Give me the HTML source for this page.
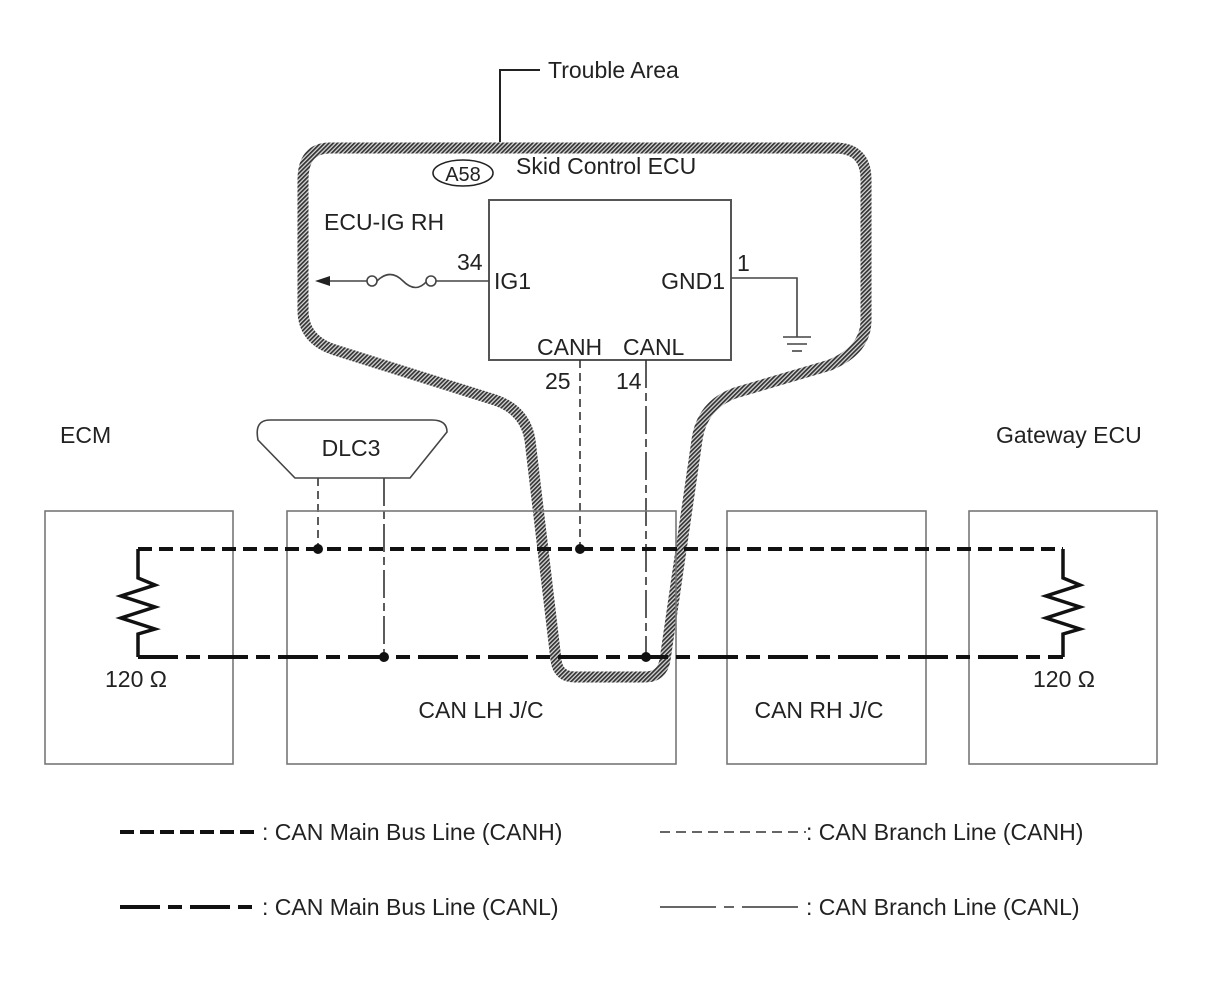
<!DOCTYPE html>
<html><head><meta charset="utf-8"><style>
html,body{margin:0;padding:0;background:#fff}
svg{display:block}
text{font-family:"Liberation Sans",Arial,sans-serif;fill:#222}
</style></head><body>
<svg width="1210" height="986" viewBox="0 0 1210 986" xmlns="http://www.w3.org/2000/svg">
<defs>
<pattern id="hatch" patternUnits="userSpaceOnUse" width="3" height="3" patternTransform="rotate(45)">
<rect width="3" height="3" fill="#d8d8d8"/>
<rect width="1.7" height="3" fill="#333"/>
</pattern>
</defs>
<path d="M 330 148 L 835 148 Q 866 148 866 180 L 866 320 Q 866 350 830 365 L 735 393 Q 702 405 697 440 L 665 660 Q 662 677 645 677 L 575 677 Q 558 677 556 660 L 530 440 Q 525 410 495 400 L 335 350 Q 303 340 303 310 L 303 180 Q 303 148 330 148 Z" fill="none" stroke="url(#hatch)" stroke-width="11"/>
<polyline points="500,142 500,70 540,70" fill="none" stroke="#222" stroke-width="2"/>
<text x="548" y="78" font-size="23">Trouble Area</text>

<ellipse cx="463" cy="173" rx="30" ry="13" fill="none" stroke="#222" stroke-width="1.6"/>
<text x="463" y="181" font-size="20" text-anchor="middle">A58</text>
<text x="516" y="174" font-size="23">Skid Control ECU</text>
<text x="324" y="230" font-size="23">ECU-IG RH</text>
<rect x="489" y="200" width="242" height="160" fill="none" stroke="#555" stroke-width="2"/>
<text x="494" y="289" font-size="23">IG1</text>
<text x="457" y="270" font-size="23">34</text>
<text x="725" y="289" font-size="23" text-anchor="end">GND1</text>
<text x="737" y="271" font-size="23">1</text>
<text x="537" y="355" font-size="23">CANH</text>
<text x="623" y="355" font-size="23">CANL</text>
<text x="545" y="389" font-size="23">25</text>
<text x="616" y="389" font-size="23">14</text>
<line x1="330" y1="281" x2="367" y2="281" stroke="#444" stroke-width="1.6"/>
<polygon points="315,281 330,276 330,286" fill="#222"/>
<circle cx="372" cy="281" r="5" fill="#fff" stroke="#444" stroke-width="1.6"/>
<path d="M377 281 Q 390 268 403 281 Q 416 294 427 281" fill="none" stroke="#444" stroke-width="1.6"/>
<circle cx="431" cy="281" r="5" fill="#fff" stroke="#444" stroke-width="1.6"/>
<line x1="436" y1="281" x2="489" y2="281" stroke="#444" stroke-width="1.6"/>
<polyline points="731,278 797,278 797,337" fill="none" stroke="#444" stroke-width="1.6"/>
<line x1="783" y1="337" x2="811" y2="337" stroke="#444" stroke-width="1.6"/>
<line x1="787" y1="344" x2="807" y2="344" stroke="#444" stroke-width="1.6"/>
<line x1="792" y1="351" x2="802" y2="351" stroke="#444" stroke-width="1.6"/>

<line x1="580" y1="360" x2="580" y2="549" stroke="#333" stroke-width="1.6" stroke-dasharray="8 5"/>
<line x1="646" y1="360" x2="646" y2="657" stroke="#333" stroke-width="1.6" stroke-dasharray="28 5 8 5"/>
<line x1="318" y1="478" x2="318" y2="549" stroke="#333" stroke-width="1.6" stroke-dasharray="8 5"/>
<line x1="384" y1="478" x2="384" y2="657" stroke="#333" stroke-width="1.6" stroke-dasharray="28 5 8 5"/>

<path d="M 270 420 L 432 420 Q 447 420 447 432 L 410 478 L 295 478 L 258 440 Q 254 420 270 420 Z" fill="#fff" stroke="#444" stroke-width="1.6"/>
<text x="351" y="456" font-size="23" text-anchor="middle">DLC3</text>

<g fill="none" stroke="#777" stroke-width="1.6">
<rect x="45" y="511" width="188" height="253"/>
<rect x="287" y="511" width="389" height="253"/>
<rect x="727" y="511" width="199" height="253"/>
<rect x="969" y="511" width="188" height="253"/>
</g>
<text x="60" y="443" font-size="23">ECM</text>
<text x="996" y="443" font-size="23">Gateway ECU</text>
<text x="105" y="687" font-size="23">120 Ω</text>
<text x="1033" y="687" font-size="23">120 Ω</text>
<text x="481" y="718" font-size="23" text-anchor="middle">CAN LH J/C</text>
<text x="819" y="718" font-size="23" text-anchor="middle">CAN RH J/C</text>

<line x1="138" y1="549" x2="1063" y2="549" stroke="#111" stroke-width="4" stroke-dasharray="14 7"/>
<line x1="138" y1="657" x2="1063" y2="657" stroke="#111" stroke-width="4" stroke-dasharray="40 8 14 8"/>
<g fill="none" stroke="#111" stroke-width="3.5">
<polyline points="138,549 138,578 155,585 121,596 155,607 121,618 155,629 138,634 138,657"/>
<polyline points="1063,549 1063,578 1080,585 1046,596 1080,607 1046,618 1080,629 1063,634 1063,657"/>
</g>
<g fill="#111">
<circle cx="318" cy="549" r="5"/><circle cx="580" cy="549" r="5"/>
<circle cx="384" cy="657" r="5"/><circle cx="646" cy="657" r="5"/>
</g>

<line x1="120" y1="832" x2="258" y2="832" stroke="#111" stroke-width="4" stroke-dasharray="14 6"/>
<text x="262" y="840" font-size="23">: CAN Main Bus Line (CANH)</text>
<line x1="120" y1="907" x2="258" y2="907" stroke="#111" stroke-width="4" stroke-dasharray="40 8 14 8"/>
<text x="262" y="915" font-size="23">: CAN Main Bus Line (CANL)</text>
<line x1="660" y1="832" x2="806" y2="832" stroke="#333" stroke-width="1.6" stroke-dasharray="10 6"/>
<text x="806" y="840" font-size="23">: CAN Branch Line (CANH)</text>
<line x1="660" y1="907" x2="806" y2="907" stroke="#333" stroke-width="1.6" stroke-dasharray="56 8 10 8"/>
<text x="806" y="915" font-size="23">: CAN Branch Line (CANL)</text>
</svg>
</body></html>
